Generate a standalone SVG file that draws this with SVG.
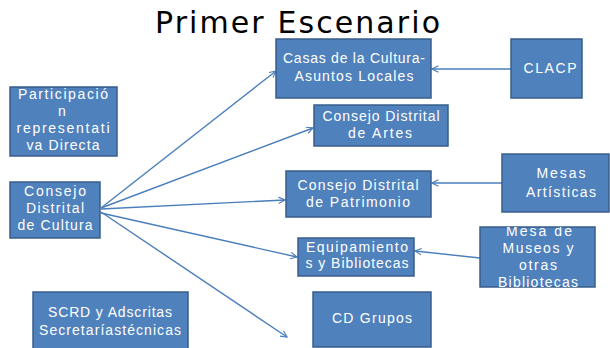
<svg xmlns="http://www.w3.org/2000/svg" width="610" height="348" viewBox="0 0 610 348">
<style>
.box{fill:#4F81BD;stroke:#385D8A;stroke-width:1.5}
.t{font-family:"Liberation Sans",Arial,sans-serif;font-size:14px;fill:#ffffff;text-anchor:middle}
.c{fill:none;stroke:#4A7EBB;stroke-width:1.4}
.title{font-family:"DejaVu Sans","Open Sans",sans-serif;font-size:30px;fill:#000000}
</style>
<defs>
<marker id="ah" viewBox="0 0 10 10" refX="9" refY="5" markerWidth="8" markerHeight="8" markerUnits="userSpaceOnUse" orient="auto">
<path d="M1,1 L9,5 L1,9" fill="none" stroke="#4A7EBB" stroke-width="1.4"/>
</marker>
<clipPath id="clipMuseos"><rect x="480" y="227" width="115" height="60"/></clipPath>
<clipPath id="clipEquip"><rect x="298" y="238" width="116" height="38"/></clipPath>
</defs>
<text class="title" x="155" y="33" textLength="285" lengthAdjust="spacing">Primer Escenario</text>

<g id="connectors">
<line class="c" x1="101" y1="208" x2="276" y2="71" marker-end="url(#ah)"/>
<line class="c" x1="101" y1="208" x2="313" y2="128" marker-end="url(#ah)"/>
<line class="c" x1="101" y1="209" x2="285" y2="200" marker-end="url(#ah)"/>
<line class="c" x1="101" y1="213" x2="297" y2="257" marker-end="url(#ah)"/>
<line class="c" x1="101" y1="212" x2="287" y2="337" marker-end="url(#ah)"/>
<line class="c" x1="511" y1="69" x2="432" y2="69" marker-end="url(#ah)"/>
<line class="c" x1="502" y1="183" x2="432" y2="183" marker-end="url(#ah)"/>
<line class="c" x1="480" y1="258" x2="415" y2="251" marker-end="url(#ah)"/>
</g>

<g id="participacion">
<rect class="box" x="10" y="87" width="107" height="69"/>
<text class="t" x="63" y="99" textLength="90" lengthAdjust="spacing">Participació</text>
<text class="t" x="62" y="116">n</text>
<text class="t" x="63" y="133" textLength="93" lengthAdjust="spacing">representati</text>
<text class="t" x="63" y="150" textLength="73" lengthAdjust="spacing">va Directa</text>
</g>

<g id="consejo-cultura">
<rect class="box" x="10" y="182" width="90" height="56"/>
<text class="t" x="55" y="196" textLength="62" lengthAdjust="spacing">Consejo</text>
<text class="t" x="55" y="213" textLength="58" lengthAdjust="spacing">Distrital</text>
<text class="t" x="55" y="230" textLength="75" lengthAdjust="spacing">de Cultura</text>
</g>

<g id="scrd">
<rect class="box" x="33" y="292" width="155" height="58"/>
<text class="t" x="110" y="317" textLength="124" lengthAdjust="spacing">SCRD y Adscritas</text>
<text class="t" x="110" y="335" textLength="142" lengthAdjust="spacing">Secretaríastécnicas</text>
</g>

<g id="casas">
<rect class="box" x="276" y="39" width="155" height="59"/>
<text class="t" x="354" y="63" textLength="142" lengthAdjust="spacing">Casas de la Cultura-</text>
<text class="t" x="354" y="81" textLength="119" lengthAdjust="spacing">Asuntos Locales</text>
</g>

<g id="clacp">
<rect class="box" x="511" y="39" width="71" height="59"/>
<text class="t" x="550" y="73" textLength="53" lengthAdjust="spacing">CLACP</text>
</g>

<g id="artes">
<rect class="box" x="314" y="105" width="134" height="41"/>
<text class="t" x="381" y="121" textLength="117" lengthAdjust="spacing">Consejo Distrital</text>
<text class="t" x="380" y="138" textLength="64" lengthAdjust="spacing">de Artes</text>
</g>

<g id="patrimonio">
<rect class="box" x="286" y="171" width="145" height="46"/>
<text class="t" x="358" y="190" textLength="121" lengthAdjust="spacing">Consejo Distrital</text>
<text class="t" x="358" y="207" textLength="104" lengthAdjust="spacing">de Patrimonio</text>
</g>

<g id="mesas-artisticas">
<rect class="box" x="502" y="154" width="107" height="58"/>
<text class="t" x="561" y="178" textLength="49" lengthAdjust="spacing">Mesas</text>
<text class="t" x="561" y="197" textLength="70" lengthAdjust="spacing">Artísticas</text>
</g>

<g id="equipamientos">
<rect class="box" x="298" y="238" width="116" height="38"/>
<g clip-path="url(#clipEquip)">
<text class="t" x="357" y="252" textLength="102" lengthAdjust="spacing">Equipamiento</text>
<text class="t" x="357" y="268" textLength="103" lengthAdjust="spacing">s y Bibliotecas</text>
</g>
</g>

<g id="mesa-museos">
<rect class="box" x="480" y="227" width="115" height="60"/>
<g clip-path="url(#clipMuseos)">
<text class="t" x="539" y="236" textLength="66" lengthAdjust="spacing">Mesa de</text>
<text class="t" x="538" y="253" textLength="71" lengthAdjust="spacing">Museos y</text>
<text class="t" x="538" y="270" textLength="38" lengthAdjust="spacing">otras</text>
<text class="t" x="538" y="287" textLength="80" lengthAdjust="spacing">Bibliotecas</text>
</g>
</g>

<g id="cd-grupos">
<rect class="box" x="313" y="292" width="118" height="55"/>
<text class="t" x="372" y="323" textLength="80" lengthAdjust="spacing">CD Grupos</text>
</g>
</svg>
